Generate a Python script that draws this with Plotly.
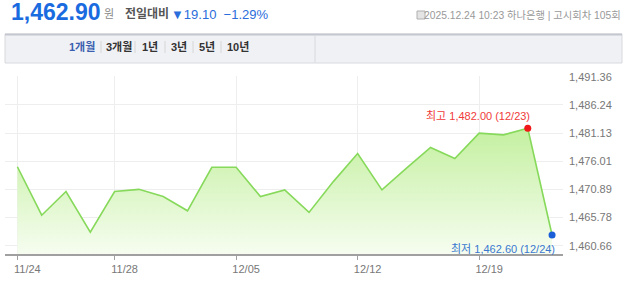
import plotly.graph_objects as go

dates = ["11/24", "11/25", "11/26", "11/27", "11/28", "12/01", "12/02", "12/03",
         "12/04", "12/05", "12/08", "12/09", "12/10", "12/11", "12/12", "12/15",
         "12/16", "12/17", "12/18", "12/19", "12/22", "12/23", "12/24"]
values = [1475.0, 1466.2, 1470.5, 1463.1, 1470.5, 1470.9, 1469.6, 1467.0,
          1474.9, 1474.9, 1469.6, 1470.8, 1466.7, 1472.3, 1477.4, 1470.8,
          1474.7, 1478.5, 1476.5, 1481.1, 1480.8, 1482.0, 1462.6]
x_ticks = ["11/24", "11/28", "12/05", "12/12", "12/19"]
y_ticks = [1460.66, 1465.78, 1470.89, 1476.01, 1481.13, 1486.24, 1491.36]
y_ticktext = [f"{v:,.2f}" for v in y_ticks]

high_i = values.index(max(values))
low_i = values.index(min(values))

W, H = 640, 289
L, R, T, B = 5, 77, 76, 35
PW, PH = W - L - R, H - T - B


def px(x):
    return (x - L) / PW


def py(y):
    return (H - B - y) / PH


FONT = "Arial, 'Liberation Sans', 'Noto Sans CJK KR', sans-serif"
KFONT = "Arial, 'Noto Sans CJK KR', sans-serif"

fig = go.Figure()
fig.add_trace(go.Scatter(
    x=dates, y=values, mode="lines",
    line=dict(color="#86d95a", width=1.6),
    fill="tozeroy",
    fillgradient=dict(type="vertical", start=1459.15, stop=1482.0,
                      colorscale=[[0, "rgba(246,253,240,1)"], [1, "rgba(196,240,160,1)"]]),
    hoverinfo="skip", showlegend=False,
))
fig.add_trace(go.Scatter(
    x=[dates[high_i]], y=[values[high_i]], mode="markers",
    marker=dict(color="#f01818", size=7), showlegend=False, hoverinfo="skip"))
fig.add_trace(go.Scatter(
    x=[dates[low_i]], y=[values[low_i]], mode="markers",
    marker=dict(color="#1a5fd8", size=7), showlegend=False, hoverinfo="skip"))

annotations = [
    dict(x=dates[high_i], y=values[high_i], xref="x", yref="y",
         text=f"최고 {values[high_i]:,.2f} ({dates[high_i]})", showarrow=False,
         xanchor="right", yanchor="middle", xshift=4, yshift=12.5,
         font=dict(family=KFONT, size=11, color="#f03a3a")),
    dict(x=dates[low_i], y=values[low_i], xref="x", yref="y",
         text=f"최저 {values[low_i]:,.2f} ({dates[low_i]})", showarrow=False,
         xanchor="right", yanchor="middle", xshift=5, yshift=-14,
         font=dict(family=KFONT, size=11, color="#3a78d0")),
    # header
    dict(x=px(9), y=py(12), xref="paper", yref="paper", text="<b>1,462.90</b>",
         showarrow=False, xanchor="left", yanchor="middle",
         font=dict(family=FONT, size=23, color="#1a6be0")),
    dict(x=px(102), y=py(14), xref="paper", yref="paper", text="원",
         showarrow=False, xanchor="left", yanchor="middle",
         font=dict(family=KFONT, size=11, color="#8a8a8a")),
    dict(x=px(123), y=py(14), xref="paper", yref="paper", text="<b>전일대비</b>",
         showarrow=False, xanchor="left", yanchor="middle",
         font=dict(family=KFONT, size=12, color="#555555")),
    dict(x=px(169), y=py(14), xref="paper", yref="paper", text="▼19.10  −1.29%",
         showarrow=False, xanchor="left", yanchor="middle",
         font=dict(family=KFONT, size=13, color="#2a6ddb")),
    dict(x=px(623), y=py(15), xref="paper", yref="paper",
         text="2025.12.24 10:23 하나은행 | 고시회차 105회",
         showarrow=False, xanchor="right", yanchor="middle",
         font=dict(family=KFONT, size=10.3, color="#999999")),
]

tabs = [("1개월", 67, "#3a5fb0"), ("3개월", 104, "#333333"), ("1년", 140, "#333333"),
        ("3년", 169, "#333333"), ("5년", 197, "#333333"), ("10년", 225, "#333333")]
for t, x0, c in tabs:
    annotations.append(dict(x=px(x0), y=py(47), xref="paper", yref="paper",
                            text=f"<b>{t}</b>", showarrow=False, xanchor="left",
                            yanchor="middle", font=dict(family=KFONT, size=11, color=c)))

shapes = [
    dict(type="rect", xref="paper", yref="paper", x0=px(5), x1=px(622), y0=py(63), y1=py(34),
         fillcolor="#f0f1f5", line=dict(color="#d8d9de", width=1), layer="below"),
    dict(type="line", xref="paper", yref="paper", x0=px(5), x1=px(622), y0=py(34.5), y1=py(34.5),
         line=dict(color="#c4c7cf", width=2)),
    dict(type="line", xref="paper", yref="paper", x0=px(315), x1=px(315), y0=py(35), y1=py(62.5),
         line=dict(color="#d8d9de", width=1)),
]
for sx in [101, 135, 165, 193, 221]:
    shapes.append(dict(type="line", xref="paper", yref="paper", x0=px(sx), x1=px(sx),
                       y0=py(41), y1=py(53), line=dict(color="#d6d6d6", width=1)))
# calendar icon
shapes.append(dict(type="rect", xref="paper", yref="paper", x0=px(417), x1=px(425),
                   y0=py(19), y1=py(11), fillcolor="#e4e4e4", line=dict(color="#b0b0b0", width=1)))

fig.update_layout(
    width=W, height=H,
    margin=dict(l=L, r=R, t=T, b=B, pad=0),
    paper_bgcolor="white", plot_bgcolor="white",
    annotations=annotations, shapes=shapes,
    xaxis=dict(
        type="category", range=[-0.51, 22.45],
        tickmode="array", tickvals=x_ticks, ticktext=x_ticks,
        showgrid=True, gridcolor="#eeeeee", gridwidth=1,
        showline=True, linecolor="#a0a0a0", linewidth=2,
        ticks="outside", ticklen=4, tickcolor="#a0a0a0", tickwidth=1,
        ticklabelshift=10,
        tickfont=dict(family=FONT, size=11, color="#777777"),
        zeroline=False, fixedrange=True,
    ),
    yaxis=dict(
        range=[1459.15, 1491.49], side="right",
        tickmode="array", tickvals=y_ticks, ticktext=y_ticktext,
        showgrid=True, gridcolor="#eeeeee", gridwidth=1,
        showline=False, ticks="", ticklabelstandoff=5,
        tickfont=dict(family=FONT, size=11, color="#777777"),
        zeroline=False, fixedrange=True,
    ),
)

fig.write_html("out.html")
